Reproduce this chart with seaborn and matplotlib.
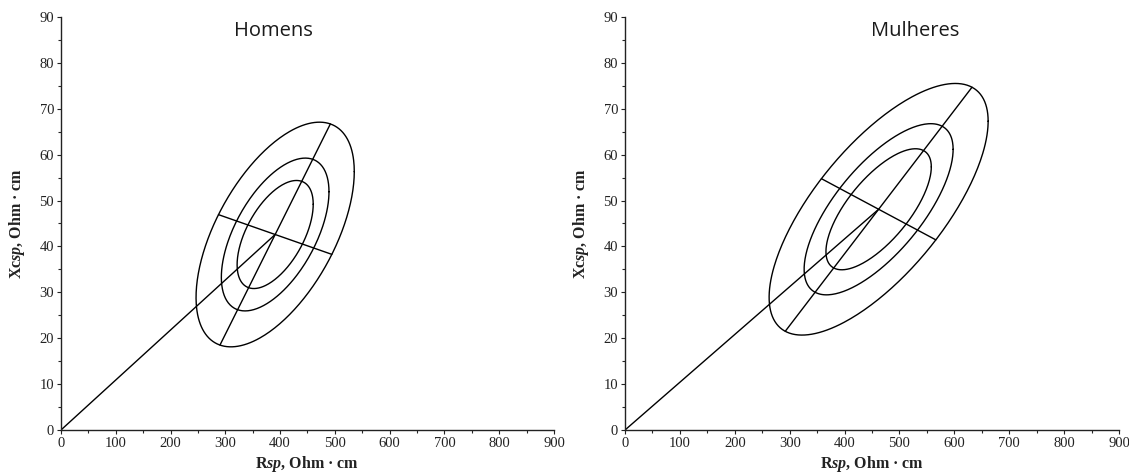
import numpy as np
import pandas as pd
import matplotlib
matplotlib.use('Agg')
import matplotlib.pyplot as plt
import seaborn as sns

# groups and their RXc statistics
groups = ['Homens', 'Mulheres']
mean_r = [391.0, 462.0]      # Rsp mean, Ohm.cm
mean_xc = [42.6, 48.1]       # Xcsp mean, Ohm.cm
sd_r = [59.0, 81.5]
sd_xc = [10.0, 11.2]
corr = [0.56, 0.70]

# tolerance ellipses
levels = [0.50, 0.75, 0.95]

x_ticks = [0, 100, 200, 300, 400, 500, 600, 700, 800, 900]
y_ticks = [0, 10, 20, 30, 40, 50, 60, 70, 80, 90]

sns.set_style('ticks')
plt.rcParams['font.family'] = ['Liberation Serif', 'DejaVu Serif']
plt.rcParams['mathtext.fontset'] = 'custom'
plt.rcParams['mathtext.rm'] = 'Liberation Serif:bold'
plt.rcParams['mathtext.it'] = 'Liberation Serif:bold:italic'
plt.rcParams['mathtext.bf'] = 'Liberation Serif:bold'

fig = plt.figure(figsize=(11.29, 4.73), dpi=100)
axes = [
    fig.add_axes([0.0540, 0.0909, 0.4367, 0.8732]),
    fig.add_axes([0.5536, 0.0909, 0.4376, 0.8732]),
]
title_x = [388, 529]

scale = (x_ticks[-1] - x_ticks[0]) / (y_ticks[-1] - y_ticks[0])
t = np.linspace(0, 2 * np.pi, 300)

for i, ax in enumerate(axes):
    mu = np.array([mean_r[i], mean_xc[i]])
    cov = np.array([
        [sd_r[i] ** 2, corr[i] * sd_r[i] * sd_xc[i]],
        [corr[i] * sd_r[i] * sd_xc[i], sd_xc[i] ** 2],
    ])
    chol = np.linalg.cholesky(cov)

    frames = []
    for p in levels:
        k = np.sqrt(-2 * np.log(1 - p))
        pts = mu[:, None] + k * chol @ np.vstack([np.cos(t), np.sin(t)])
        frames.append(pd.DataFrame({'R': pts[0], 'Xc': pts[1], 'curve': 'e{}'.format(p)}))

    # principal axes of the 95% ellipse, in the (square) plot geometry
    s = np.diag([1 / scale, 1.0])
    vals, vecs = np.linalg.eigh(s @ cov @ s)
    k95 = np.sqrt(-2 * np.log(1 - levels[-1]))
    for j in range(2):
        d = k95 * np.sqrt(vals[j]) * vecs[:, j] * np.array([scale, 1.0])
        ends = np.vstack([mu - d, mu + d])
        frames.append(pd.DataFrame({'R': ends[:, 0], 'Xc': ends[:, 1], 'curve': 'axis{}'.format(j)}))

    # vector from origin to the mean
    frames.append(pd.DataFrame({'R': [0, mu[0]], 'Xc': [0, mu[1]], 'curve': 'vector'}))

    df = pd.concat(frames, ignore_index=True)
    sns.lineplot(data=df, x='R', y='Xc', units='curve', estimator=None,
                 sort=False, color='black', lw=1.0, ax=ax)

    ax.set_xlim(x_ticks[0], x_ticks[-1])
    ax.set_ylim(y_ticks[0], y_ticks[-1])
    ax.set_xticks(x_ticks)
    ax.set_yticks(y_ticks)
    ax.set_xticks(np.array(x_ticks[:-1]) + 50, minor=True)
    ax.set_yticks(np.array(y_ticks[:-1]) + 5, minor=True)
    ax.tick_params(axis='both', which='major', direction='out', length=3,
                   width=0.8, labelsize=10.5, colors='#222222', pad=2)
    ax.tick_params(axis='both', which='minor', direction='out', length=2, width=0.8)
    for side in ['top', 'right']:
        ax.spines[side].set_visible(False)
    for side in ['left', 'bottom']:
        ax.spines[side].set_color('#222222')
        ax.spines[side].set_linewidth(1.0)

    ax.set_xlabel('R$sp$, Ohm · cm', fontsize=11.5, fontweight='bold',
                  color='#222222', labelpad=3)
    ax.set_ylabel('Xc$sp$, Ohm · cm', fontsize=11.5, fontweight='bold',
                  color='#222222', labelpad=9)

    ax.text(title_x[i], 87, groups[i], ha='center', va='center', fontsize=14.5,
            family=['Open Sans', 'DejaVu Sans'], color='#1a1a1a')

fig.savefig('out.png', dpi=100)
